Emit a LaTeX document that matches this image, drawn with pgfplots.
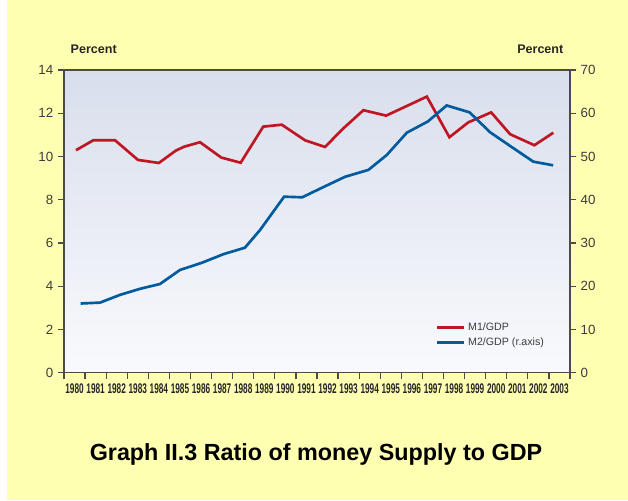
\documentclass[border=0pt]{standalone}
\usepackage{fontspec}
\setmainfont{Liberation Sans}
\usepackage{graphicx}
\usepackage{pgfplots}
\pgfplotsset{compat=1.18}

\definecolor{bgyellow}{RGB}{255,255,178}
\definecolor{plottop}{RGB}{216,222,236}
\definecolor{plotbot}{RGB}{249,250,253}
\definecolor{axisgrey}{RGB}{75,75,75}
\definecolor{ticktext}{RGB}{60,60,60}
\definecolor{m1red}{RGB}{190,22,34}
\definecolor{m2blue}{RGB}{0,90,158}

\pgfplotsset{
  base/.style={
    scale only axis, width=379.5pt, height=227pt,
    xmin=0, xmax=24, at={(0,0)}, anchor=south west,
    tick align=outside, major tick length=4.5pt,
    tick style={draw=axisgrey, line width=0.9pt},
    axis line style={draw=axisgrey, line width=1.2pt},
    yticklabel style={font=\fontsize{10}{12}\selectfont, text=ticktext},
    /pgf/number format/assume math mode=true,
  },
}

\begin{document}
\begin{tikzpicture}
\fill[white] (-48pt,-95.5pt) rectangle (423pt,279.5pt);
\fill[bgyellow] (-42.75pt,-95.5pt) rectangle (423pt,279.5pt);

% left axis: M1/GDP
\begin{axis}[base,
    ymin=0, ymax=14, ytick={0,2,...,14}, ytick pos=left,
    xtick={0,...,24}, xtick pos=bottom,
    xticklabel={\pgfmathtruncatemacro\yr{round(\tick)+1980}\ifnum\yr<2004 \scalebox{0.59}[1]{\yr}\fi},
    xticklabel style={xshift=7.9pt, font=\bfseries\fontsize{10.5}{12}\selectfont, text=black!85},
    axis background/.style={top color=plottop, bottom color=plotbot},
]
\addplot[m1red, line width=2pt] coordinates {
  (0.57,10.29) (1.39,10.75) (2.42,10.75) (3.51,9.84) (4.50,9.70) (5.30,10.27)
  (5.69,10.45) (6.45,10.66) (7.46,9.95) (8.38,9.71) (9.45,11.38) (10.33,11.47)
  (11.43,10.75) (12.38,10.44) (13.25,11.30) (14.20,12.14) (15.28,11.89) (16.25,12.33)
  (17.21,12.77) (18.28,10.89) (19.18,11.58) (20.26,12.04) (21.16,11.03) (22.31,10.52)
  (23.21,11.10)
};
\end{axis}

% right axis: M2/GDP
\begin{axis}[base,
    ymin=0, ymax=70, ytick={0,10,...,70},
    axis y line*=right, axis x line=none,
    legend style={at={(rel axis cs:0.727,0.184)}, anchor=north west,
      draw=none, fill=none, font=\fontsize{8}{10}\selectfont, text=ticktext,
      legend cell align=left},
    legend image code/.code={\draw[#1] (0pt,0pt) -- (20pt,0pt);},
]
\addlegendimage{m1red, line width=2pt}
\addlegendentry{M1/GDP}
\addplot[m2blue, line width=2pt] coordinates {
  (0.79,16.0) (1.71,16.2) (2.66,18.0) (3.61,19.4) (4.55,20.5) (5.50,23.75)
  (6.53,25.4) (7.56,27.4) (8.58,28.9) (9.30,33.0) (10.44,40.7) (11.30,40.56)
  (12.25,42.8) (13.33,45.3) (14.44,46.9) (15.31,50.35) (16.26,55.5) (17.26,58.1)
  (18.15,61.8) (19.24,60.2) (20.21,55.6) (21.20,52.3) (22.26,48.8) (23.20,47.96)
};
\addlegendentry{M2/GDP (r.axis)}
\end{axis}

\node[anchor=west, font=\bfseries\fontsize{9.4}{11}\selectfont, text=black!85] at (1.5pt,242.8pt) {Percent};
\node[anchor=east, font=\bfseries\fontsize{9.4}{11}\selectfont, text=black!85] at (378pt,242.8pt) {Percent};
\node[font=\bfseries\fontsize{17.5}{20}\selectfont] at (189pt,-61.7pt) {Graph II.3 Ratio of money Supply to GDP};

\pgfresetboundingbox
\useasboundingbox (-48pt,-95.5pt) rectangle (423pt,279.5pt);
\end{tikzpicture}
\end{document}
